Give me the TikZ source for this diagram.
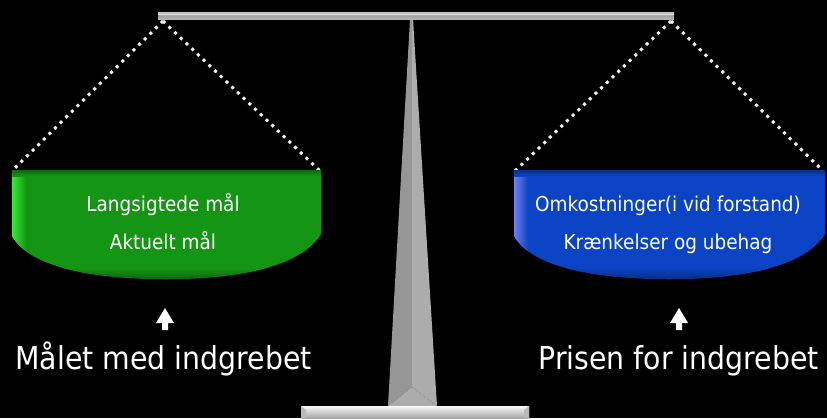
\documentclass[tikz,border=0pt]{standalone}
\usepackage{fontspec}
\setmainfont[FakeStretch=0.9]{DejaVu Sans}
\definecolor{pangreen}{RGB}{20,150,20}
\definecolor{panblue}{RGB}{10,68,196}
\definecolor{postdark}{RGB}{150,150,150}
\definecolor{postlight}{RGB}{172,172,172}
\tikzset{
  dotline/.style={draw=white!88!gray, line width=3pt, dash pattern=on 3pt off 4.9pt},
  panlabel/.style={text=white, font=\fontsize{20.5}{24}\selectfont, anchor=base, inner sep=0pt},
  biglabel/.style={text=white, font=\fontsize{31.5}{36}\selectfont, anchor=base, inner sep=0pt},
  uparrow/.style={fill=white, draw=none}
}
\begin{document}
\begin{tikzpicture}[x=1pt,y=-1pt]
\fill[black] (0,0) rectangle (827,418);
\useasboundingbox (0,0) rectangle (827,418);

% hanging points and pan corners
\coordinate (lhang) at (163,21);
\coordinate (rhang) at (671,21);
\coordinate (lpanL) at (12,171);
\coordinate (lpanR) at (320,171);
\coordinate (rpanL) at (515,171);
\coordinate (rpanR) at (823,171);

% central post
\fill[postdark] (410,19) -- (412,19) -- (412,387) -- (388,406) -- cycle;
\fill[postlight] (412,19) -- (413,19) -- (437,406) -- (412,387) -- cycle;
\fill[gray!65] (388,406) -- (412,387) -- (437,406) -- cycle;

% base
\shade[top color=white!95!gray, bottom color=gray!70] (301,406) rectangle (529,418);
\fill[gray!55] (301,406) -- (306,410) -- (306,418) -- (301,418) -- cycle;
\fill[gray!55] (529,406) -- (524,410) -- (524,418) -- (529,418) -- cycle;

% beam
\shade[top color=gray!45, bottom color=gray!60, middle color=gray!80!black!60] (158,12) rectangle (674,19);
\fill[white!80!gray] (158,13.5) rectangle (674,15);

% dotted strings
\draw[dotline] (lhang) -- (lpanL);
\draw[dotline] (lhang) -- (lpanR);
\draw[dotline] (rhang) -- (rpanL);
\draw[dotline] (rhang) -- (rpanR);

% left pan
\def\lpan{(12,170) -- (321,170) -- (321,234) .. controls (300,268) and (235,279) .. (166,279) .. controls (95,279) and (30,268) .. (12,236) -- cycle}
\fill[pangreen] \lpan;
\begin{scope}
  \clip \lpan;
  \shade[left color=green!75!white!80!pangreen, right color=pangreen] (12,170) rectangle (26,290);
  \shade[top color=pangreen!70!black, bottom color=pangreen] (12,170) rectangle (321,176);
  \shade[top color=pangreen, bottom color=pangreen!60!black] (12,268) rectangle (321,282);
\end{scope}

% right pan
\def\rpan{(514,170) -- (825,170) -- (825,234) .. controls (804,268) and (739,279) .. (669,279) .. controls (598,279) and (532,268) .. (514,236) -- cycle}
\fill[panblue] \rpan;
\begin{scope}
  \clip \rpan;
  \shade[left color=blue!45!white!80!panblue, right color=panblue] (514,170) rectangle (528,290);
  \shade[top color=panblue!70!black, bottom color=panblue] (514,170) rectangle (825,176);
  \shade[top color=panblue, bottom color=panblue!60!black] (514,268) rectangle (825,282);
\end{scope}

% pan labels
\node[panlabel] (l1) at (163,211) {Langsigtede mål};
\node[panlabel] (l2) at (163,249) {Aktuelt mål};
\node[panlabel] (r1) at (668,211) {Omkostninger(i vid forstand)};
\node[panlabel] (r2) at (668,249) {Krænkelser og ubehag};

% arrows
\fill[uparrow] (165,308) -- (174,323) -- (168,323) -- (168,330) -- (162,330) -- (162,323) -- (156,323) -- cycle;
\fill[uparrow] (679,308) -- (688,323) -- (682,323) -- (682,330) -- (676,330) -- (676,323) -- (670,323) -- cycle;

% bottom labels
\node[biglabel] (bl) at (163.5,369) {Målet med indgrebet};
\node[biglabel] (br) at (678.5,369) {Prisen for indgrebet};
\end{tikzpicture}
\end{document}
